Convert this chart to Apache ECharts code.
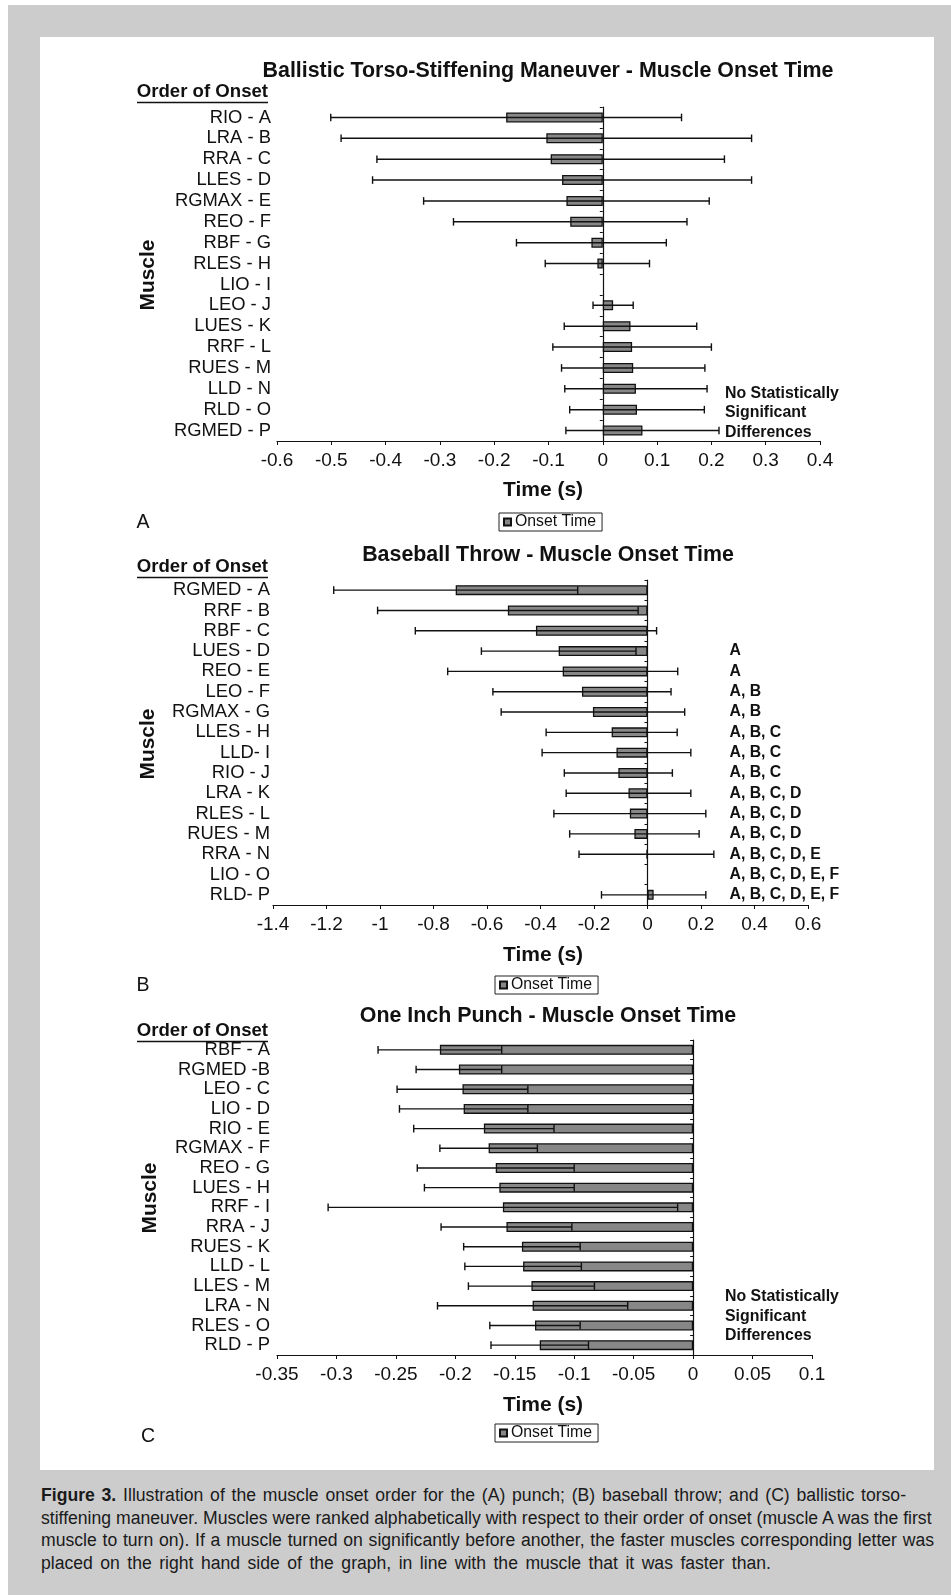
<!DOCTYPE html>
<html>
<head>
<meta charset="utf-8">
<script src="https://cdn.jsdelivr.net/npm/echarts@6/dist/echarts.min.js"></script>
<style>
  html, body { margin: 0; padding: 0; background: #ffffff; }
  body { width: 951px; height: 1595px; position: relative; overflow: hidden; font-family: 'Liberation Sans', Arial, sans-serif; }
  #frame { position: absolute; left: 8px; top: 5px; width: 943px; height: 1590px; background: #cccccc; }
  #panel { position: absolute; left: 40px; top: 37px; width: 894px; height: 1433px; background: #ffffff; }
  #caption { position: absolute; left: 41px; top: 1484px; font-size: 17.6px; line-height: 22.7px; color: #1a1a1a; white-space: nowrap; }
  #caption .ln { display: block; white-space: nowrap; text-align: justify; text-align-last: justify; }
  #caption .last { text-align-last: left; }
  #chart { position: absolute; left: 0; top: 0; width: 951px; height: 1595px; }
</style>
</head>
<body>
<div id="frame"></div>
<div id="panel"></div>
<div id="caption">
  <span class="ln" style="width:865px"><b>Figure 3.</b> Illustration of the muscle onset order for the (A) punch; (B) baseball throw; and (C) ballistic torso-</span>
  <span class="ln last">stiffening maneuver. Muscles were ranked alphabetically with respect to their order of onset (muscle A was the first</span>
  <span class="ln" style="width:893px">muscle to turn on). If a muscle turned on significantly before another, the faster muscles corresponding letter was</span>
  <span class="ln" style="width:730px">placed on the right hand side of the graph, in line with the muscle that it was faster than.</span>
</div>
<div id="chart"></div>
<script>
// ---------- Data ----------
// Panel A: Ballistic torso-stiffening maneuver
const titleA = 'Ballistic Torso-Stiffening Maneuver - Muscle Onset Time';
const catsA = ['RIO - A','LRA - B','RRA - C','LLES - D','RGMAX - E','REO - F','RBF - G','RLES - H','LIO - I','LEO - J','LUES - K','RRF - L','RUES - M','LLD - N','RLD - O','RGMED - P'];
const meanA = [-0.178, -0.104, -0.096, -0.075, -0.067, -0.060, -0.021, -0.010, null, 0.019, 0.051, 0.054, 0.056, 0.061, 0.063, 0.073];
const sdA   = [0.323, 0.378, 0.320, 0.349, 0.263, 0.215, 0.138, 0.096, null, 0.037, 0.122, 0.146, 0.132, 0.131, 0.124, 0.141];
const ticksA = { min: -0.6, max: 0.4, interval: 0.1 };

// Panel B: Baseball throw
const titleB = 'Baseball Throw - Muscle Onset Time';
const catsB = ['RGMED - A','RRF - B','RBF - C','LUES - D','REO - E','LEO - F','RGMAX - G','LLES - H','LLD- I','RIO - J','LRA - K','RLES - L','RUES - M','RRA - N','LIO - O','RLD- P'];
const meanB = [-0.717, -0.522, -0.417, -0.332, -0.317, -0.245, -0.204, -0.134, -0.116, -0.109, -0.071, -0.066, -0.049, -0.004, null, 0.023];
const sdB   = [0.456, 0.487, 0.451, 0.289, 0.430, 0.333, 0.343, 0.245, 0.278, 0.202, 0.233, 0.284, 0.242, 0.252, null, 0.195];
const sigB  = ['', '', '', 'A', 'A', 'A, B', 'A, B', 'A, B, C', 'A, B, C', 'A, B, C', 'A, B, C, D', 'A, B, C, D', 'A, B, C, D', 'A, B, C, D, E', 'A, B, C, D, E, F', 'A, B, C, D, E, F'];
const ticksB = { min: -1.4, max: 0.6, interval: 0.2 };

// Panel C: One inch punch
const titleC = 'One Inch Punch - Muscle Onset Time';
const catsC = ['RBF - A','RGMED -B','LEO - C','LIO - D','RIO - E','RGMAX - F','REO - G','LUES - H','RRF - I','RRA - J','RUES - K','LLD - L','LLES - M','LRA - N','RLES - O','RLD - P'];
const meanC = [-0.213, -0.197, -0.194, -0.193, -0.176, -0.172, -0.166, -0.163, -0.160, -0.157, -0.144, -0.143, -0.136, -0.135, -0.133, -0.129];
const sdC   = [0.052, 0.036, 0.055, 0.054, 0.059, 0.041, 0.066, 0.063, 0.147, 0.055, 0.049, 0.049, 0.053, 0.080, 0.038, 0.041];
const ticksC = { min: -0.35, max: 0.1, interval: 0.05 };

const seriesName = 'Onset Time';
const axisTitle = 'Time (s)';
const yTitle = 'Muscle';
const orderTitle = 'Order of Onset';
const noSig = ['No Statistically', 'Significant', 'Differences'];

// ---------- Layout ----------
const FONT = "'Liberation Sans', Arial, sans-serif";
const INK = '#111111';
const panels = [
  { title: titleA, cats: catsA, mean: meanA, sd: sdA, ticks: ticksA, sig: null,
    grid: { left: 277, top: 107, width: 543, height: 334 }, labelMargin: 6,
    titleY: 71.5, orderY: 92, muscle: [148, 275], timeY: 490, legend: [499, 513], letter: ['A', 143, 523], noSig: [725, 393.5] },
  { title: titleB, cats: catsB, mean: meanB, sd: sdB, ticks: ticksB, sig: sigB,
    grid: { left: 273, top: 580, width: 535, height: 325 }, labelMargin: 3,
    titleY: 555, orderY: 567, muscle: [148, 744], timeY: 955, legend: [495, 976], letter: ['B', 143, 986], noSig: null },
  { title: titleC, cats: catsC, mean: meanC, sd: sdC, ticks: ticksC, sig: null,
    grid: { left: 277, top: 1040, width: 535, height: 315 }, labelMargin: 7,
    titleY: 1016, orderY: 1031, muscle: [150, 1198], timeY: 1405, legend: [495, 1424], letter: ['C', 148, 1437], noSig: [725, 1297] }
];

const grids = [], xAxes = [], yAxes = [], series = [], legends = [], graphics = [];

function errRender(params, api) {
  const lo = api.value(0), hi = api.value(1), idx = api.value(2);
  const p1 = api.coord([lo, idx]);
  const p2 = api.coord([hi, idx]);
  const h = 3.8;
  const st = { stroke: INK, lineWidth: 1.4 };
  return { type: 'group', children: [
    { type: 'line', shape: { x1: p1[0], y1: p1[1], x2: p2[0], y2: p2[1] }, style: st },
    { type: 'line', shape: { x1: p1[0], y1: p1[1] - h, x2: p1[0], y2: p1[1] + h }, style: st },
    { type: 'line', shape: { x1: p2[0], y1: p2[1] - h, x2: p2[0], y2: p2[1] + h }, style: st }
  ]};
}

panels.forEach((p, k) => {
  grids.push({ left: p.grid.left, top: p.grid.top, width: p.grid.width, height: p.grid.height, containLabel: false });
  xAxes.push({
    type: 'value', gridIndex: k, min: p.ticks.min, max: p.ticks.max, interval: p.ticks.interval,
    axisLine: { show: true, lineStyle: { color: INK, width: 1.2 } },
    axisTick: { show: true, length: 4, lineStyle: { color: INK } },
    splitLine: { show: false },
    axisLabel: { color: INK, fontSize: 19, fontFamily: FONT, margin: 10 }
  });
  const yBase = yAxes.length;
  // axis line at zero with ticks
  yAxes.push({
    type: 'category', gridIndex: k, data: p.cats, inverse: true,
    axisLine: { show: true, onZero: true, lineStyle: { color: INK, width: 1.2 } },
    axisTick: { show: true, length: 3, interval: 0, lineStyle: { color: INK } },
    axisLabel: { show: false }, splitLine: { show: false }
  });
  // category labels at left
  yAxes.push({
    type: 'category', gridIndex: k, data: p.cats, inverse: true, position: 'left',
    axisLine: { show: false, onZero: false }, axisTick: { show: false },
    axisLabel: { show: true, interval: 0, color: INK, fontSize: 18.4, fontFamily: FONT, margin: p.labelMargin }
  });
  if (p.sig) {
    yAxes.push({
      type: 'category', gridIndex: k, data: p.sig, inverse: true, position: 'right', offset: -78.5,
      axisLine: { show: false, onZero: false }, axisTick: { show: false },
      axisLabel: { show: true, color: INK, fontSize: 15.8, fontWeight: 'bold', fontFamily: FONT, margin: 0, interval: 0 }
    });
  }
  series.push({
    name: seriesName, type: 'bar', xAxisIndex: k, yAxisIndex: yBase,
    data: p.mean, barWidth: 10,
    itemStyle: { color: '#878787', borderColor: INK, borderWidth: 1.3 },
    emphasis: { disabled: true }, z: 2
  });
  const errData = [];
  p.mean.forEach((m, i) => {
    if (m !== null && p.sd[i] !== null) errData.push([m - p.sd[i], m + p.sd[i], i]);
  });
  series.push({
    name: 'SD', type: 'custom', xAxisIndex: k, yAxisIndex: yBase,
    data: errData, encode: { x: [0, 1], y: 2 }, renderItem: errRender, z: 3, silent: true
  });
  legends.push({
    data: [seriesName], left: p.legend[0], top: p.legend[1],
    orient: 'horizontal', itemWidth: 7, itemHeight: 7, itemGap: 4,
    padding: [1, 6, 1, 4], borderColor: '#222', borderWidth: 1, borderRadius: 0,
    textStyle: { color: INK, fontSize: 15.8, fontFamily: FONT, padding: [0, 0, 0, -1] },
    icon: 'rect', selectedMode: false
  });
  // texts
  graphics.push({ type: 'text', x: 548, y: p.titleY, style: { text: p.title, fill: INK, font: 'bold 21.4px ' + FONT, align: 'center', verticalAlign: 'middle' } });
  graphics.push({ type: 'text', x: 268, y: p.orderY, style: { text: orderTitle, fill: INK, font: 'bold 18.6px ' + FONT, align: 'right', verticalAlign: 'middle' } });
  graphics.push({ type: 'line', shape: { x1: 137, y1: p.orderY + 10.5, x2: 268, y2: p.orderY + 10.5 }, style: { stroke: INK, lineWidth: 1.5 } });
  graphics.push({ type: 'text', x: p.muscle[0], y: p.muscle[1], rotation: Math.PI / 2, style: { text: yTitle, fill: INK, font: 'bold 20.9px ' + FONT, align: 'center', verticalAlign: 'middle' } });
  graphics.push({ type: 'text', x: 543, y: p.timeY, style: { text: axisTitle, fill: INK, font: 'bold 21px ' + FONT, align: 'center', verticalAlign: 'middle' } });
  graphics.push({ type: 'text', x: p.letter[1], y: p.letter[2], style: { text: p.letter[0], fill: INK, font: '19.5px ' + FONT, align: 'center', verticalAlign: 'middle' } });
  if (p.noSig) {
    noSig.forEach((t, j) => {
      graphics.push({ type: 'text', x: p.noSig[0], y: p.noSig[1] + j * 19.4, style: { text: t, fill: INK, font: 'bold 15.9px ' + FONT, align: 'left', verticalAlign: 'middle' } });
    });
  }
});

const chart = echarts.init(document.getElementById('chart'), null, { renderer: 'canvas' });
chart.setOption({
  backgroundColor: 'transparent',
  animation: false,
  textStyle: { fontFamily: FONT },
  grid: grids, xAxis: xAxes, yAxis: yAxes, series: series, legend: legends,
  graphic: graphics
});
</script>
</body>
</html>
